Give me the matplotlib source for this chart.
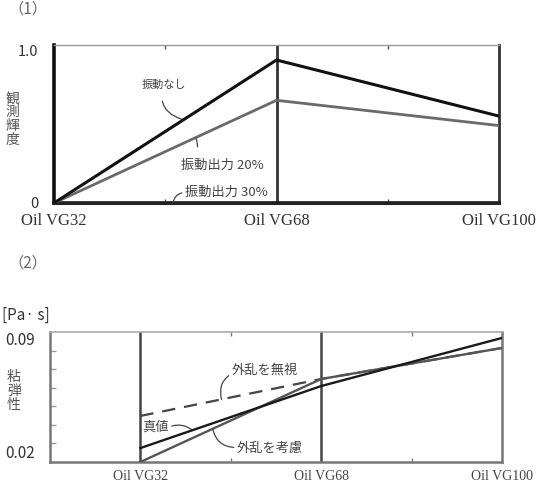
import matplotlib
matplotlib.use("Agg")
import matplotlib.pyplot as plt

JP = ["Noto Sans CJK JP", "DejaVu Sans"]
SERIF = ["Liberation Serif", "DejaVu Serif"]

# (1) observed brightness vs oil grade
oils = ["Oil VG32", "Oil VG68", "Oil VG100"]
no_vib = [0.0, 0.905, 0.55]
vib_20 = [0.0, 0.65, 0.49]
vib_30 = [0.0, 0.0, 0.0]

# (2) viscoelasticity [Pa·s]
true_val = [0.0275, 0.0609, 0.0868]
ignore_dist = [0.0448, 0.0647, 0.0814]
consider_dist = [0.0200, 0.0647, 0.0814]

xs = list(range(len(oils)))

fig = plt.figure(figsize=(5.39, 4.88), dpi=100)

# ---------------- top chart ----------------
ax1 = fig.add_axes([54 / 539, 1 - 203 / 488, 445 / 539, 158 / 488])
ax1.set_xlim(0, 2)
ax1.set_ylim(0, 1)
ax1.axvline(1, color="#333333", lw=2.0, zorder=1)
ax1.plot(xs, vib_30, color="#222222", lw=2.2, zorder=3, clip_on=False)
ax1.plot(xs, vib_20, color="#6a6a6a", lw=2.0, zorder=3)
ax1.plot(xs, no_vib, color="#111111", lw=2.2, zorder=4)

ax1.spines["left"].set_linewidth(2.6)
ax1.spines["left"].set_color("#111111")
ax1.spines["bottom"].set_linewidth(2.6)
ax1.spines["bottom"].set_color("#111111")
ax1.spines["right"].set_linewidth(2.0)
ax1.spines["right"].set_color("#333333")
ax1.spines["top"].set_linewidth(1.0)
ax1.spines["top"].set_color("#999999")

ax1.set_xticks(xs)
ax1.set_xticklabels(oils, family=SERIF, fontsize=12, color="#333333")
ax1.set_xticks([0.5, 1.5], minor=True)
ax1.tick_params(axis="x", which="major", length=0, pad=7)
ax1.tick_params(axis="x", which="minor", direction="in", length=3, width=1,
                color="#555555", top=True)
ax1.set_yticks([0, 1])
ax1.set_yticklabels(["0", "1.0"], family=JP, fontsize=10.5, color="#333333")
ax1.tick_params(axis="y", length=0, pad=11)
ax1.get_yticklabels()[1].set_va("top")

ax1.text(-0.186, 0.53, "観\n測\n輝\n度", transform=ax1.transData, family=JP,
         fontsize=10, color="#555555", ha="center", va="center", linespacing=1.0,
         clip_on=False)

ann_kw = dict(family=JP, color="#444444", ha="center", va="center")
leader = dict(arrowstyle="-", color="#444444", lw=0.9)
ax1.annotate("振動なし", xy=(0.575, 0.53), xytext=(0.494, 0.747), fontsize=8,
             arrowprops=dict(connectionstyle="arc3,rad=0.5", shrinkA=6,
                             shrinkB=0, **leader), **ann_kw)
ax1.annotate("振動出力 20%", xy=(0.638, 0.41), xytext=(0.755, 0.24), fontsize=9.5,
             arrowprops=dict(connectionstyle="arc3,rad=0.4", shrinkA=7,
                             shrinkB=0, relpos=(0.1, 0.9), **leader), **ann_kw)
ax1.annotate("振動出力 30%", xy=(0.535, 0.0), xytext=(0.773, 0.07), fontsize=9.5,
             arrowprops=dict(connectionstyle="arc3,rad=0.4", shrinkA=0,
                             shrinkB=0, relpos=(0.0, 0.45), **leader), **ann_kw)

fig.text(8 / 539, 1 - 9 / 488, "（1）", family=JP, fontsize=11, color="#666666",
         ha="left", va="center")

# ---------------- bottom chart ----------------
ax2 = fig.add_axes([50 / 539, 1 - 462 / 488, 452 / 539, 130 / 488])
ax2.set_xlim(-0.5, 2)
ax2.set_ylim(0.02, 0.09)
for xv in [0, 1]:
    ax2.axvline(xv, color="#444444", lw=1.8, zorder=1)
ax2.plot(xs, ignore_dist, color="#444444", lw=1.6, dashes=(6, 4), zorder=3)
ax2.plot(xs, consider_dist, color="#555555", lw=1.7, zorder=3)
ax2.plot(xs, true_val, color="#1a1a1a", lw=1.7, zorder=4)

for side in ["left", "bottom", "right"]:
    ax2.spines[side].set_linewidth(1.8)
    ax2.spines[side].set_color("#777777")
ax2.spines["top"].set_linewidth(1.2)
ax2.spines["top"].set_color("#aaaaaa")

ax2.set_xticks(xs)
ax2.set_xticklabels(oils, family=SERIF, fontsize=10, color="#444444")
ax2.set_xticks([0.5, 1.5], minor=True)
ax2.tick_params(axis="x", which="major", length=0, pad=6)
ax2.tick_params(axis="x", which="minor", direction="in", length=3, width=1,
                color="#777777", top=True)
ax2.set_yticks([0.02, 0.09])
ax2.set_yticklabels(["0.02", "0.09"], family=JP, fontsize=11, color="#333333")
ax2.set_yticks([0.03, 0.04, 0.05, 0.06, 0.07, 0.08], minor=True)
ax2.tick_params(axis="y", which="major", length=0, pad=11)
ax2.tick_params(axis="y", which="minor", direction="in", length=4, width=1,
                color="#999999")
ax2.get_yticklabels()[0].set_va("bottom")
ax2.get_yticklabels()[1].set_va("top")

fig.text(14 / 539, 1 - 391 / 488, "粘\n弾\n性", family=JP, fontsize=10,
         color="#555555", ha="center", va="center", linespacing=1.0)
fig.text(2 / 539, 1 - 315 / 488, "[Pa· s]", family=JP, fontsize=11,
         color="#333333", ha="left", va="center")
fig.text(8 / 539, 1 - 263 / 488, "（2）", family=JP, fontsize=11, color="#666666",
         ha="left", va="center")

ax2.annotate("外乱を無視", xy=(0.449, 0.0537), xytext=(0.687, 0.0695), fontsize=9.5,
             arrowprops=dict(connectionstyle="arc3,rad=0.4", shrinkA=0,
                             shrinkB=0, relpos=(0.03, 0.3), **leader), **ann_kw)
ax2.annotate("真値", xy=(0.289, 0.0370), xytext=(0.085, 0.0388), fontsize=9.5,
             arrowprops=dict(connectionstyle="arc3,rad=-0.3", shrinkA=0,
                             shrinkB=0, relpos=(1.0, 0.5), **leader), **ann_kw)
ax2.annotate("外乱を考慮", xy=(0.40, 0.0377), xytext=(0.715, 0.0275), fontsize=9.5,
             arrowprops=dict(connectionstyle="arc3,rad=-0.4", shrinkA=0,
                             shrinkB=0, relpos=(0.0, 0.55), **leader), **ann_kw)

fig.savefig("out.png", dpi=100)
